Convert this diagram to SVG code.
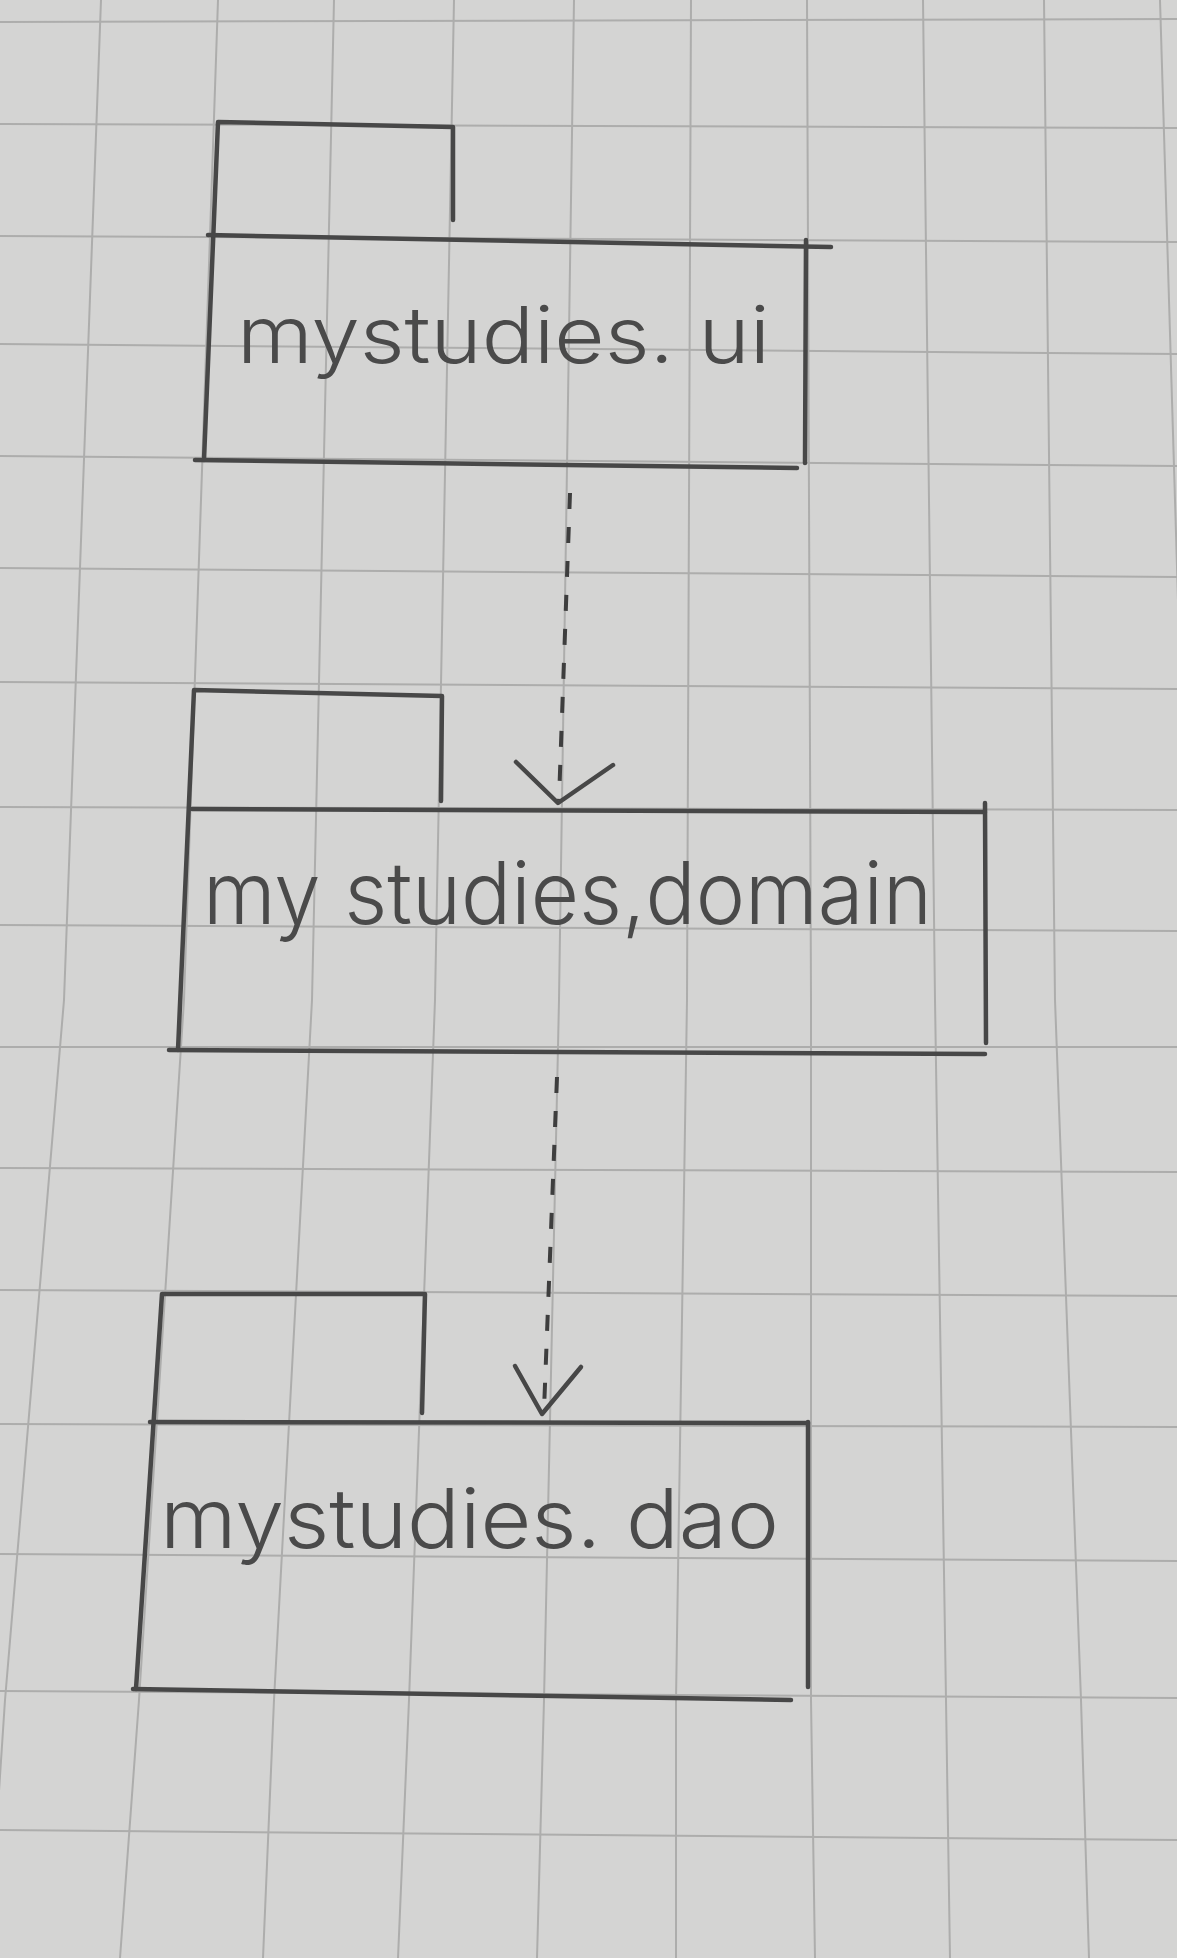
<svg xmlns="http://www.w3.org/2000/svg" width="1177" height="1958" viewBox="0 0 1177 1958">
<style>
.grid{fill:none;stroke:#adadac;stroke-width:2}
.pen{fill:none;stroke:#474747;stroke-width:4.5;stroke-linecap:round;stroke-linejoin:round}
.dash{fill:none;stroke:#3e3e3e;stroke-width:4;stroke-dasharray:16 18}
.lbl{font-family:"Inter","Lato","DejaVu Sans",sans-serif;font-weight:300;fill:#4a4a4a}
</style>
<rect width="1177" height="1958" fill="#d4d4d3"/>
<g id="paper-grid">
<polyline class="grid" points="101,0 64,1000 5,1700 -12,1958"/>
<polyline class="grid" points="218,0 184,1000 139,1700 120,1958"/>
<polyline class="grid" points="334,0 312,1000 274,1700 263,1958"/>
<polyline class="grid" points="454,0 435,1000 409,1700 398,1958"/>
<polyline class="grid" points="574,0 559,1000 544,1700 537,1958"/>
<polyline class="grid" points="691,0 687,1000 676,1700 676,1958"/>
<polyline class="grid" points="807,0 811,1000 811,1700 815,1958"/>
<polyline class="grid" points="923,0 935,1000 946,1700 950,1958"/>
<polyline class="grid" points="1044,0 1055,1000 1081,1700 1089,1958"/>
<polyline class="grid" points="1160,0 1190,1000"/>
<line class="grid" x1="0" y1="22" x2="1177" y2="19"/>
<line class="grid" x1="0" y1="124" x2="1177" y2="128"/>
<line class="grid" x1="0" y1="236" x2="1177" y2="242"/>
<line class="grid" x1="0" y1="344" x2="1177" y2="354"/>
<line class="grid" x1="0" y1="456" x2="1177" y2="466"/>
<line class="grid" x1="0" y1="568" x2="1177" y2="577"/>
<line class="grid" x1="0" y1="682" x2="1177" y2="689"/>
<line class="grid" x1="0" y1="807" x2="1177" y2="810"/>
<line class="grid" x1="0" y1="925" x2="1177" y2="931"/>
<line class="grid" x1="0" y1="1047" x2="1177" y2="1047"/>
<line class="grid" x1="0" y1="1168" x2="1177" y2="1172"/>
<line class="grid" x1="0" y1="1290" x2="1177" y2="1296"/>
<line class="grid" x1="0" y1="1424" x2="1177" y2="1427"/>
<line class="grid" x1="0" y1="1554" x2="1177" y2="1561"/>
<line class="grid" x1="0" y1="1691" x2="1177" y2="1698"/>
<line class="grid" x1="0" y1="1830" x2="1177" y2="1840"/>
</g>
<g id="pkg-ui">
<polyline class="pen" points="453,220 453,127 218,122 204,460"/>
<line class="pen" x1="208" y1="235" x2="831" y2="247"/>
<line class="pen" x1="806" y1="240" x2="805" y2="463"/>
<line class="pen" x1="195" y1="460" x2="797" y2="468"/>
<text class="lbl" x="237" y="363" font-size="78" textLength="533" lengthAdjust="spacingAndGlyphs">mystudies. ui</text>
</g>
<g id="pkg-domain">
<polyline class="pen" points="441,801 442,696 194,690 178,1050"/>
<line class="pen" x1="192" y1="809" x2="985" y2="812"/>
<line class="pen" x1="985" y1="803" x2="986" y2="1043"/>
<line class="pen" x1="169" y1="1050" x2="985" y2="1054"/>
<text class="lbl" x="203" y="924" font-size="86" textLength="729" lengthAdjust="spacingAndGlyphs">my studies,domain</text>
</g>
<g id="pkg-dao">
<polyline class="pen" points="422,1413 425,1294 162,1294 136,1689"/>
<line class="pen" x1="150" y1="1422" x2="808" y2="1423"/>
<line class="pen" x1="808" y1="1422" x2="808" y2="1687"/>
<line class="pen" x1="133" y1="1689" x2="791" y2="1700"/>
<text class="lbl" x="160" y="1548" font-size="82" textLength="619" lengthAdjust="spacingAndGlyphs">mystudies. dao</text>
</g>
<g id="connectors">
<line class="dash" x1="570" y1="493" x2="559" y2="800"/>
<polyline class="pen" points="516,762 558,803 613,765"/>
<line class="dash" x1="557" y1="1077" x2="544" y2="1410"/>
<polyline class="pen" points="515,1366 542,1414 581,1367"/>
</g>
</svg>
